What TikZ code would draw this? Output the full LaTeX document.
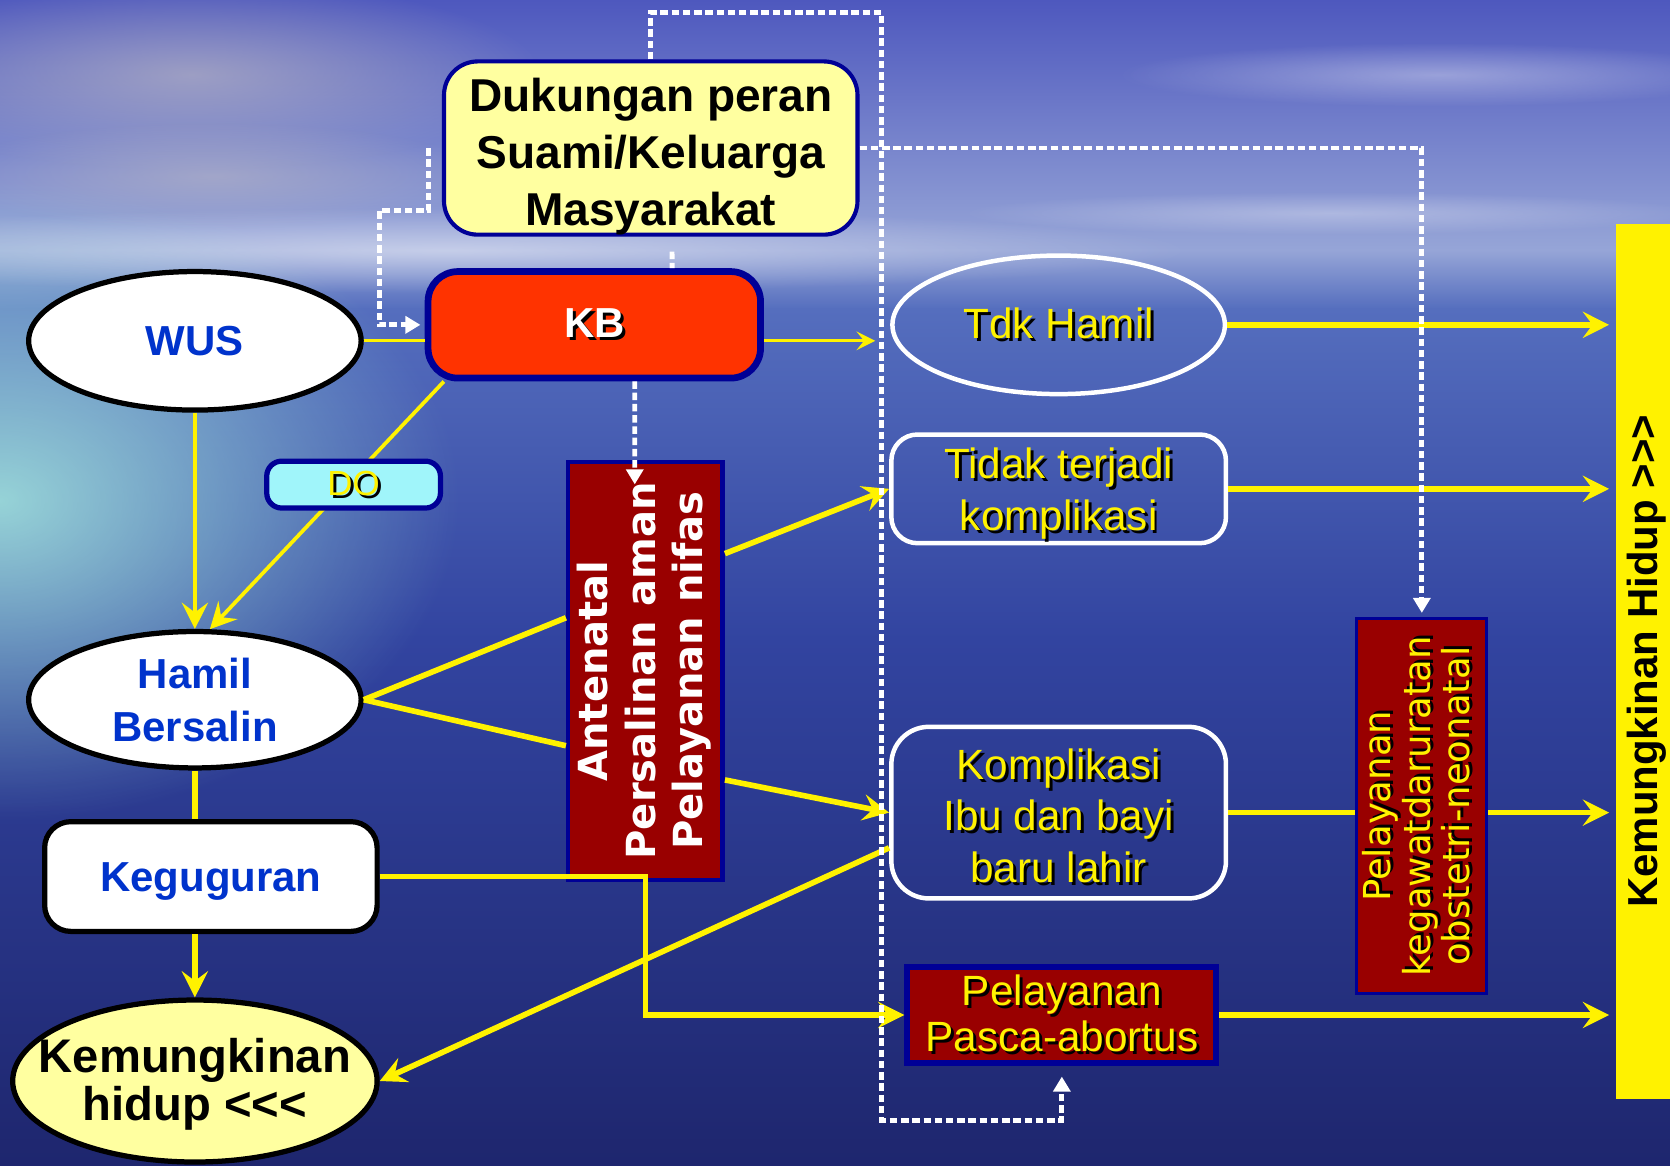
\documentclass[tikz,border=0pt]{standalone}
\usepackage{fontspec}
\setmainfont{Liberation Sans}
\newfontfamily\verdfont{DejaVu Sans}
\usepackage{xcolor}
\usepackage{graphicx}
\usetikzlibrary{shapes.geometric, arrows.meta, positioning, calc, fadings}
\definecolor{skyTop}{RGB}{78, 88, 190}
\definecolor{skyLow}{RGB}{150, 165, 215}
\definecolor{seaTop}{RGB}{85, 110, 190}
\definecolor{seaMid}{RGB}{50, 68, 160}
\definecolor{seaBot}{RGB}{30, 38, 110}
\definecolor{seaGlow}{RGB}{160, 225, 220}
\definecolor{cloudGrey}{RGB}{195, 190, 195}
\definecolor{bordBlue}{RGB}{0, 0, 150}
\definecolor{txtBlue}{RGB}{0, 51, 204}
\definecolor{paleYel}{RGB}{255, 255, 160}
\definecolor{kbRed}{RGB}{255, 51, 0}
\definecolor{darkRed}{RGB}{153, 0, 0}
\definecolor{doCyan}{RGB}{160, 245, 250}
\tikzfading[name=fuzz, inner color=transparent!0, outer color=transparent!100]
\newcommand{\basesz}{\fontsize{11.2}{14.2}\selectfont}
\newcommand{\shtx}[1]{\makebox[0pt][l]{\hspace{0.8pt}\raisebox{-0.8pt}{\color{black}#1}}#1}
\newcommand{\threelt}{<\kern0pt<\kern0pt<}
\newcommand{\threegt}{>\kern0pt>\kern0pt>}

\begin{document}
\begin{tikzpicture}[x=0.01cm, y=-0.01cm,
  oval/.style={ellipse, draw=black, line width=1.4pt, fill=white,
    inner sep=0pt, align=center, text=txtBlue, font=\basesz\bfseries},
  panel/.style={rectangle, rounded corners=7pt, draw=black, line width=1.4pt,
    fill=white, align=center, text=txtBlue, font=\basesz\bfseries},
  glass/.style={draw=white, line width=1.2pt, inner sep=0pt, align=center,
    text=yellow, font=\fontsize{11.3}{13.8}\selectfont},
  svc/.style={rectangle, draw=bordBlue, fill=darkRed, line width=1.2pt,
    inner sep=0pt, align=center},
  lin/.style={yellow, line width=1.5pt},
  fine/.style={yellow, line width=0.8pt},
  arr/.style={-{Stealth[length=7pt, width=7pt, inset=2.6pt]}},
  dotline/.style={white, line width=1.3pt, dash pattern=on 2pt off 1pt},
  dotarr/.style={dotline, -{Triangle[length=4pt, width=4.5pt]}},
]
\useasboundingbox (0,0) rectangle (1568,1094);
\clip (0,0) rectangle (1568,1094);
% background: sky and sea
\shade[top color=skyTop, bottom color=skyLow] (0,0) rectangle (1568,235);
\shade[top color=skyLow, bottom color=seaTop] (0,235) rectangle (1568,290);
\shade[top color=seaTop, bottom color=seaMid] (0,290) rectangle (1568,600);
\shade[top color=seaMid, bottom color=seaBot] (0,600) rectangle (1568,1094);
\fill[seaGlow, path fading=fuzz, opacity=0.9] (0,470) ellipse (430 and 300);
\fill[white, path fading=fuzz, opacity=0.45] (420,235) ellipse (700 and 40);
\fill[cloudGrey, path fading=fuzz, opacity=0.6] (180,70) ellipse (330 and 90);
\fill[cloudGrey, path fading=fuzz, opacity=0.5] (200,165) ellipse (260 and 50);
\fill[white, path fading=fuzz, opacity=0.35] (1350,70) ellipse (300 and 30);
\fill[white, path fading=fuzz, opacity=0.3] (1250,200) ellipse (350 and 20);

% left column
\node[oval, minimum width=3.12cm, minimum height=1.30cm] (wus)   at (183, 320) {WUS};
\node[oval, minimum width=3.12cm, minimum height=1.28cm] (hamil) at (183, 657) {Hamil\\Bersalin};
\node[panel, minimum width=3.12cm, minimum height=1.03cm] (kegu) at (198, 823)
  {\smash{\raisebox{-4.1pt}{Keguguran}}};
\node[oval, fill=paleYel, text=black, minimum width=3.42cm, minimum height=1.52cm,
  font=\fontsize{12.6}{12.8}\selectfont\bfseries] (kemh) at (183, 1015)
  {\makebox[0pt]{\smash{\raisebox{-4.5pt}{\begin{tabular}{@{}c@{}}Kemungkinan\\hidup \threelt\end{tabular}}}}};

% support and family planning
\node[rectangle, rounded corners=9pt, draw=bordBlue, fill=paleYel, line width=1.1pt,
  minimum width=3.88cm, minimum height=1.62cm, inner sep=0pt, align=center,
  font=\fontsize{12.3}{15.1}\selectfont\bfseries] (duk) at (611, 139)
  {\rule{0pt}{13.5pt}Dukungan peran\\Suami/Keluarga\\Masyarakat};
\node[rectangle, rounded corners=8pt, draw=bordBlue, fill=kbRed, line width=1.8pt,
  minimum width=3.12cm, minimum height=1.0cm, text=white,
  font=\basesz\bfseries] (kb) at (558, 305) {\shtx{KB}};

% services
\node[svc, minimum width=1.45cm, minimum height=3.92cm, text=white,
  font=\verdfont\bfseries\fontsize{10.7}{12.8}\selectfont] (ante) at (606, 630)
  {\rotatebox{90}{\begin{tabular}{@{}c@{}}Antenatal\\Persalinan aman\\Pelayanan nifas\end{tabular}}};
\node[svc, line width=0.8pt, minimum width=1.22cm, minimum height=3.52cm, text=yellow,
  font=\verdfont\fontsize{9.9}{10}\selectfont] (gawat) at (1335, 757)
  {\rotatebox{90}{\begin{tabular}{@{}c@{}}\shtx{Pelayanan}\\\shtx{kegawatdaruratan}\\\shtx{obstetri-neonatal}\end{tabular}}};
\node[svc, line width=1.6pt, minimum width=2.9cm, minimum height=0.9cm, text=yellow,
  font=\fontsize{11.3}{10.8}\selectfont] (pasca) at (997, 953)
  {\shtx{Pelayanan}\\\shtx{Pasca-abortus}};

% outcomes
\node[glass, ellipse, minimum width=3.12cm, minimum height=1.30cm] (tdk) at (994, 305)
  {\shtx{Tdk Hamil}};
\node[glass, rectangle, rounded corners=7pt, minimum width=3.14cm,
  minimum height=1.02cm] (tidak) at (994, 459)
  {\rule{0pt}{11.6pt}\shtx{Tidak terjadi}\\\shtx{komplikasi}};
\node[glass, rectangle, rounded corners=10pt, minimum width=3.14cm,
  minimum height=1.61cm, font=\fontsize{11.3}{13.7}\selectfont] (kompl) at (994, 763)
  {\rule{0pt}{10.6pt}\shtx{Komplikasi}\\\shtx{Ibu dan bayi}\\\shtx{baru lahir}};
\node[rectangle, fill=yellow, minimum width=0.57cm, minimum height=8.21cm, inner sep=0pt,
  font=\basesz\bfseries] (bar) at (1546, 621)
  {\rotatebox{90}{Kemungkinan Hidup \threegt}};

% yellow flow
\draw[fine] (wus.east) -- (wus.east -| kb.west);
\draw[fine, -{Stealth[length=5pt, width=5pt, inset=2pt]}, shorten >=1.4mm]
  (kb.east |- wus.east) -- (tdk.west |- wus.east);
\draw[fine, line width=1pt, arr] (wus.south) -- (hamil.north);
\draw[fine, line width=1pt, arr] ([xshift=1.8mm]kb.south west) -- (hamil.78);
\draw[lin] (hamil.south) -- (hamil.south |- kegu.north);
\draw[lin, arr] (kemh.north |- kegu.south) -- (kemh.north);
\draw[lin] (hamil.east) -- ($(ante.north west)!0.374!(ante.south west)$);
\draw[lin] (hamil.east) -- ($(ante.north west)!0.677!(ante.south west)$);
\draw[lin, arr] ($(ante.north east)!0.222!(ante.south east)$) -- (tidak.west);
\draw[lin, arr] ($(ante.north east)!0.758!(ante.south east)$) -- (kompl.west);
\draw[lin, arr] ($(kompl.north west)!0.7!(kompl.south west)$) -- (kemh.east);
\draw[lin, arr] (kegu.east) -| (ante.south) |- (pasca.west);
\foreach \s in {tdk, tidak, pasca}
  \draw[lin, arr, shorten >=0.6mm] (\s.east) -- (\s.east -| bar.west);
\draw[lin] (kompl.east) -- (kompl.east -| gawat.west);
\draw[lin, arr, shorten >=0.6mm] (kompl.east -| gawat.east) -- (kompl.east -| bar.west);

% support lines
\coordinate (topbend)  at (828, 12);
\coordinate (lowbend)  at (828, 1052);
\coordinate (leftbend) at (356, 198);
\draw[dotarr] (duk.north) |- (topbend) -- (lowbend) -| ([yshift=-1mm]pasca.south);
\draw[dotarr, shorten >=0.4mm] ([xshift=-1.3mm]duk.west) |- (leftbend) |- (kb.west);
\draw[dotarr, shorten >=0.4mm] (duk.east) -| (gawat.north);
\draw[dotarr] ([xshift=3.8mm]kb.south) -- ([xshift=-1mm, yshift=-2.3mm]ante.north);
\draw[dotline] ([xshift=2mm, yshift=-1.4mm]duk.south) -- ([xshift=7.3mm]kb.north);

\node[rectangle, rounded corners=4pt, draw=bordBlue, line width=1.4pt, fill=doCyan,
  minimum width=1.63cm, minimum height=0.44cm, inner sep=0pt, text=yellow,
  font=\fontsize{9.3}{11}\selectfont] (dropout) at (332, 455) {\shtx{DO}};
\end{tikzpicture}
\end{document}
